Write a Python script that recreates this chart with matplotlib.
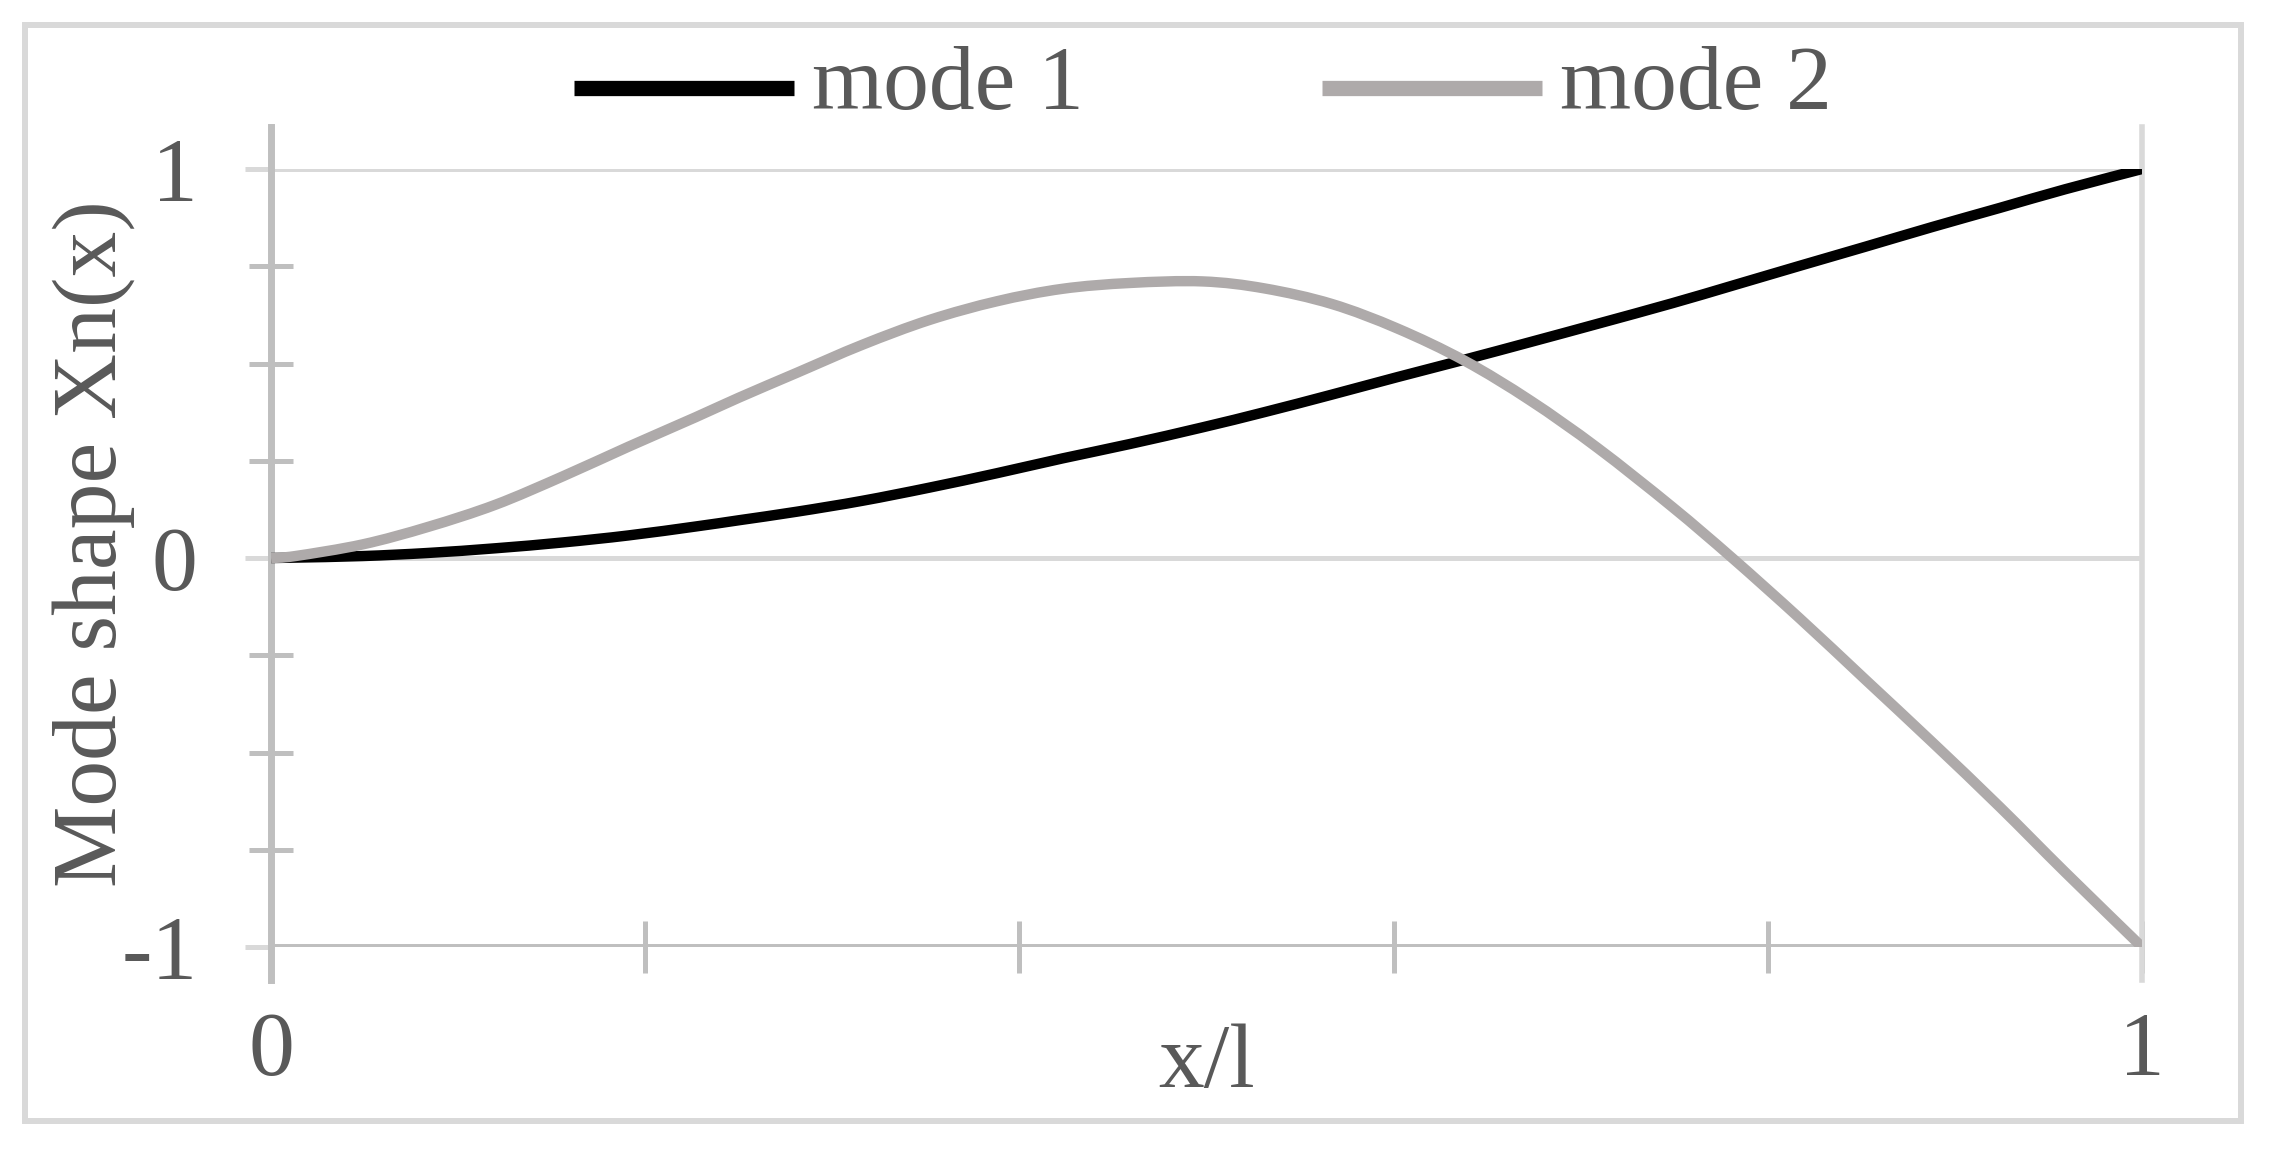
import matplotlib
matplotlib.use("Agg")
import matplotlib.pyplot as plt
from matplotlib.patches import Rectangle, PathPatch
from matplotlib.lines import Line2D
from matplotlib.path import Path

# ----- data ------------------------------------------------------------------
x_pos = [0.000, 0.013, 0.049, 0.084, 0.120, 0.156, 0.191, 0.227, 0.250, 0.281,
         0.316, 0.352, 0.388, 0.423, 0.459, 0.498, 0.531, 0.567, 0.602, 0.638,
         0.673, 0.709, 0.749, 0.781, 0.817, 0.852, 0.888, 0.924, 0.959, 1.000]
mode1 = [0.000, 0.001, 0.005, 0.013, 0.025, 0.040, 0.058, 0.081, 0.097, 0.119,
         0.147, 0.181, 0.218, 0.256, 0.293, 0.336, 0.375, 0.420, 0.465, 0.510,
         0.555, 0.602, 0.655, 0.700, 0.751, 0.800, 0.851, 0.900, 0.948, 1.000]
mode2 = [0.000, 0.005, 0.035, 0.080, 0.137, 0.210, 0.286, 0.362, 0.412, 0.476,
         0.548, 0.612, 0.660, 0.692, 0.707, 0.711, 0.693, 0.653, 0.590, 0.507,
         0.405, 0.283, 0.131, 0.000, -0.155, -0.312, -0.474, -0.640, -0.808, -1.000]
series_names = ["mode 1", "mode 2"]
x_ticks = [0, 0.2, 0.4, 0.6, 0.8, 1.0]
x_ticklabels = ["0", "", "", "", "", "1"]
y_ticks = [-1, 0, 1]
y_minor = [-0.75, -0.5, -0.25, 0.25, 0.5, 0.75]
# -----------------------------------------------------------------------------

W, H, DPI = 2270, 1152, 100
txt_col = "#595959"
grid_col = "#d9d9d9"
axis_col = "#bfbfbf"
colors = ["#000000", "#aeaaaa"]
fs = 66
lw = 7.5


def smooth_path(xs, ys):
    # Catmull-Rom through the points, as cubic bezier segments (like a smoothed line)
    pts = list(zip(xs, ys))
    verts = [pts[0]]
    codes = [Path.MOVETO]
    n = len(pts)
    for i in range(n - 1):
        p0 = pts[max(i - 1, 0)]
        p1 = pts[i]
        p2 = pts[i + 1]
        p3 = pts[min(i + 2, n - 1)]
        c1 = (p1[0] + (p2[0] - p0[0]) / 6, p1[1] + (p2[1] - p0[1]) / 6)
        c2 = (p2[0] - (p3[0] - p1[0]) / 6, p2[1] - (p3[1] - p1[1]) / 6)
        verts += [c1, c2, p2]
        codes += [Path.CURVE4] * 3
    return Path(verts, codes)


plt.rcParams["font.family"] = ["Liberation Serif", "DejaVu Serif"]
plt.rcParams["axes.unicode_minus"] = False

fig = plt.figure(figsize=(W / DPI, H / DPI), dpi=DPI)
ax = fig.add_axes([271 / W, 1 - 947 / H, 1871 / W, 778 / H])

# outer chart border
fig.patches.append(Rectangle((25 / W, 1 - 1121 / H), 2216 / W, 1096 / H,
                             transform=fig.transFigure, fill=False,
                             edgecolor=grid_col, lw=4.3))

for ys, c, z in [(mode1, colors[0], 4), (mode2, colors[1], 5)]:
    ax.add_patch(PathPatch(smooth_path(x_pos, ys), fill=False, edgecolor=c,
                           lw=lw, zorder=z, capstyle="butt", joinstyle="round"))

ax.set_xlim(0, 1)
ax.set_ylim(-1, 1)
for s in ax.spines.values():
    s.set_visible(False)

# gridlines and axis lines
ax.axhline(1, color=grid_col, lw=3.6, zorder=1)
ax.axhline(0, color=grid_col, lw=3.6, zorder=1)
ax.axhline(-1, color=axis_col, lw=5, zorder=2)
ax.plot([0, 0], [1.108, -1.085], color=axis_col, lw=5, zorder=2, clip_on=False)
ax.plot([1, 1], [1.108, -1.085], color=grid_col, lw=4, zorder=2, clip_on=False)

ax.set_xticks(x_ticks)
ax.set_xticklabels(x_ticklabels)
ax.set_yticks(y_ticks)
ax.set_yticks(y_minor, minor=True)
ax.tick_params(axis="x", which="major", direction="inout", length=37.4,
               width=3.6, color=axis_col, labelcolor=txt_col, labelsize=fs, pad=28)
ax.tick_params(axis="y", which="major", direction="out", length=18.7,
               width=3.6, color=grid_col, labelcolor=txt_col, labelsize=fs, pad=34)
ax.tick_params(axis="y", which="minor", direction="inout", length=31.7,
               width=3.6, color=axis_col)

ax.set_xlabel("x/l", fontsize=fs, color=txt_col)
ax.xaxis.set_label_coords(0.5, -0.18)
ax.xaxis.label.set_va("baseline")

ax.set_ylabel("Mode shape Xn(x)", fontsize=fs, color=txt_col)
ax.yaxis.set_label_coords(-0.0946, 0.519)
ax.yaxis.label.set_va("center")
ax.yaxis.label.set_ha("center")

handles = [Line2D([], [], color=c, lw=11, solid_capstyle="butt") for c in colors]
leg = fig.legend(handles, series_names, loc="center", ncol=2,
                 bbox_to_anchor=(1203 / W, 1 - 86 / H), frameon=False,
                 fontsize=fs, handlelength=2.4, handletextpad=0.2,
                 columnspacing=2.6, borderpad=0)
for t in leg.get_texts():
    t.set_color(txt_col)
for ln in leg.get_lines():
    ln.set_ydata([v - 8 for v in ln.get_ydata()])

fig.savefig("out.png", dpi=DPI)
